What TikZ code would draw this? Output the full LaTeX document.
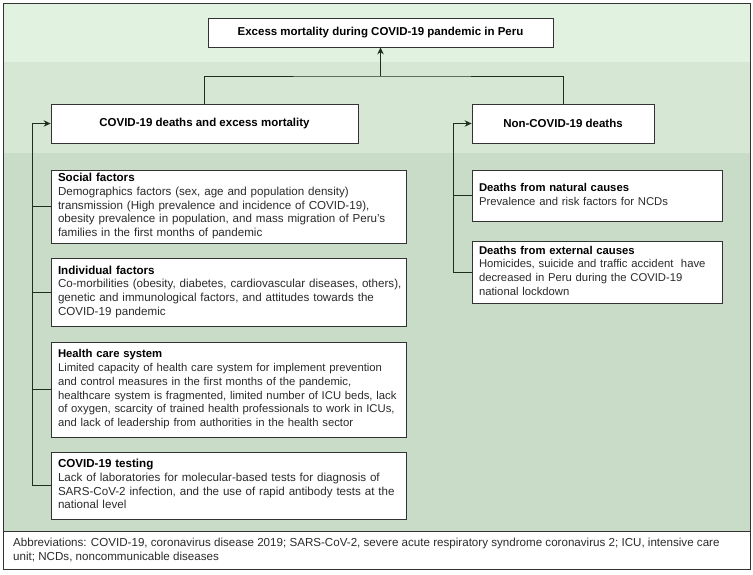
\documentclass[tikz,border=0pt]{standalone}
\usepackage{fontspec}
\setmainfont{Liberation Sans}
\usepackage{tikz}
\usetikzlibrary{calc}
\usetikzlibrary{positioning}
\usetikzlibrary{arrows.meta}

\definecolor{bandA}{HTML}{E2F2E0}
\definecolor{bandB}{HTML}{D6E8D4}
\definecolor{bandC}{HTML}{C8DCC8}
\definecolor{frameline}{HTML}{333333}
\definecolor{linkline}{HTML}{1F2F1F}
\definecolor{bodytext}{HTML}{2B2B2B}

\newcommand{\figfont}{\fontsize{11.6}{13.7}\selectfont}
\newcommand{\figfontsmall}{\fontsize{11.3}{13.8}\selectfont}

\tikzset{
	headbox/.style={draw=frameline, fill=white, line width=0.8pt, font=\fontsize{11.5}{13.7}\selectfont\bfseries, align=center, inner sep=0pt},
	subbox/.style={draw=frameline, fill=white, line width=0.8pt, align=left, inner xsep=7pt, inner ysep=0pt, text=bodytext},
	link/.style={draw=linkline, line width=1pt},
	linkarrow/.style={link, -{Stealth[length=7pt, width=6.5pt]}}
}

\begin{document}
\begin{tikzpicture}[x=1pt, y=-1pt, font=\figfont]
					\useasboundingbox (0,0) rectangle (753,574);
					% background bands
					\fill[bandA] (3,3) rectangle (750,62);
					\fill[bandB] (3,62) rectangle (750,153);
					\fill[bandC] (3,153) rectangle (750,531);
					\fill[white] (3,531) rectangle (750,569);
					\draw[frameline, line width=0.8pt] (3,3) rectangle (750,569);
					\draw[frameline, line width=0.8pt] (3,531) -- (750,531);

					% top levels
					\node[headbox, minimum width=345, minimum height=29] (excess) at (380.5,32.5) {Excess mortality during COVID-19 pandemic in Peru};
					\node[headbox, minimum width=307, minimum height=39] (covid) at (204.5,123.5) {COVID-19 deaths and excess mortality};
					\node[headbox, minimum width=182, minimum height=39] (noncovid) at (563,123.5) {Non-COVID-19 deaths};

					% left column
					\node[subbox, minimum width=355, text width=341, minimum height=73] (social) at (228.5,206.5) {\begin{tabular}{@{}l@{}}\textbf{\color{black}Social factors}\\Demographics factors (sex, age and population density)\\transmission (High prevalence and incidence of COVID-19),\\obesity prevalence in population, and mass migration of Peru's\\families in the first months of pandemic\end{tabular}};
					\node[subbox, minimum width=355, text width=341, minimum height=68] (individual) at (228.5,292) {\begin{tabular}{@{}l@{}}\textbf{\color{black}Individual factors}\\Co-morbilities (obesity, diabetes, cardiovascular diseases, others),\\genetic and immunological factors, and attitudes towards the\\COVID-19 pandemic\end{tabular}};
					\node[subbox, font=\figfontsmall, minimum width=355, text width=341, minimum height=95] (health) at (228.5,389.5) {\begin{tabular}{@{}l@{}}\textbf{\color{black}Health care system}\\Limited capacity of health care system for implement prevention\\and control measures in the first months of the pandemic,\\healthcare system is fragmented, limited number of ICU beds, lack\\of oxygen, scarcity of trained health professionals to work in ICUs,\\and lack of leadership from authorities in the health sector\end{tabular}};
					\node[subbox, minimum width=355, text width=341, minimum height=67] (testing) at (228.5,485.5) {\begin{tabular}{@{}l@{}}\textbf{\color{black}COVID-19 testing}\\Lack of laboratories for molecular-based tests for diagnosis of\\SARS-CoV-2 infection, and the use of rapid antibody tests at the\\national level\end{tabular}};

					% right column
					\node[subbox, font=\figfontsmall, minimum width=250, text width=236, minimum height=51] (natural) at (597,195.5) {\begin{tabular}{@{}l@{}}\textbf{\color{black}Deaths from natural causes}\\Prevalence and risk factors for NCDs\end{tabular}};
					\node[subbox, font=\figfontsmall, minimum width=250, text width=236, minimum height=62] (external) at (597,272) {\begin{tabular}{@{}l@{}}\textbf{\color{black}Deaths from external causes}\\Homicides, suicide and traffic accident\ \ have\\decreased in Peru during the COVID-19\\national lockdown\end{tabular}};

					% footnote
					\node[anchor=west, align=left, text=bodytext, inner sep=0pt] (abbrev) at (13,550) {Abbreviations: COVID-19, coronavirus disease 2019; SARS-CoV-2, severe acute respiratory syndrome coronavirus 2; ICU, intensive care\\unit; NCDs, noncommunicable diseases};

					% connectors
					\coordinate (J) at (380.5,76);
					\coordinate (L) at (32,123.5);
					\coordinate (R) at (453,123.5);
					\draw[link] (covid.north) |- (J) -| (noncovid.north);
					\draw[linkarrow] (J) -- (excess.south);
					\draw[linkarrow] (testing.west) -| (L) -- (covid.west);
					\draw[link] (social.west) -- (social.west -| L);
					\draw[link] (individual.west) -- (individual.west -| L);
					\draw[link] (health.west) -- (health.west -| L);
					\draw[linkarrow] (external.west) -| (R) -- (noncovid.west);
					\draw[link] (natural.west) -- (natural.west -| R);
                \end{tikzpicture}
\end{document}
